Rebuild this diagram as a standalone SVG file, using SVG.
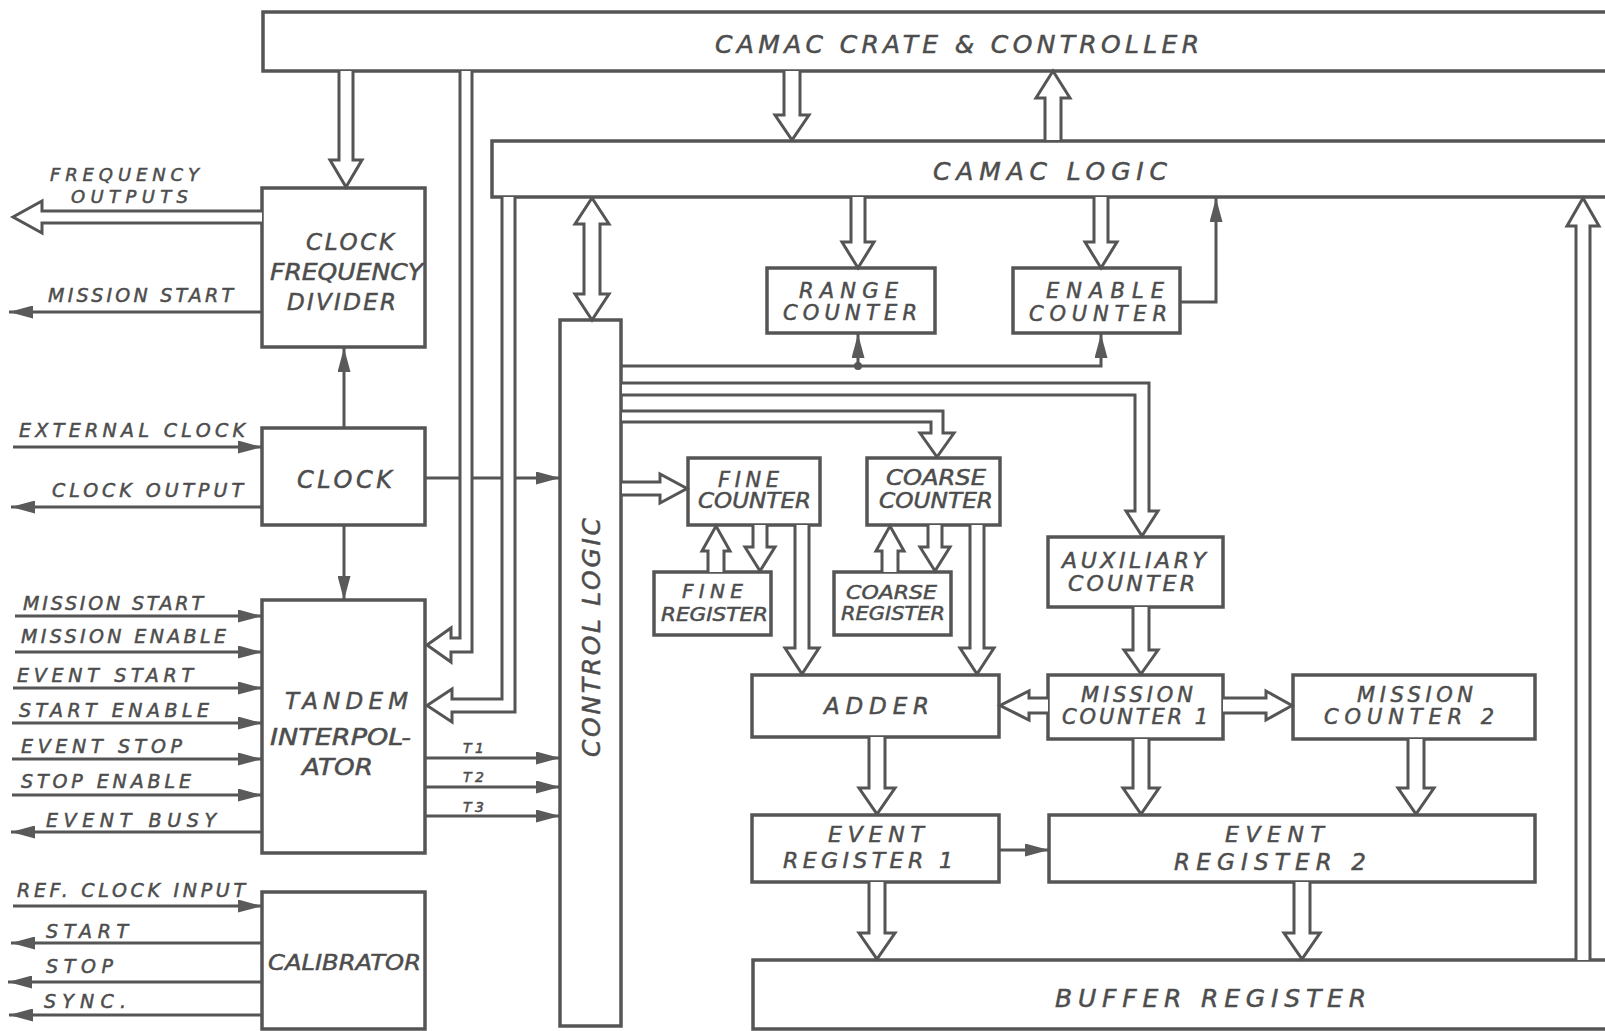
<svg xmlns="http://www.w3.org/2000/svg" width="1605" height="1031" viewBox="0 0 1605 1031">
<style>
.b{fill:none;stroke:#555;stroke-width:3.5}
.h{fill:#fff;stroke:#555;stroke-width:3;stroke-linejoin:miter}
.l{fill:none;stroke:#555;stroke-width:3}
.a{fill:none;stroke:#555;stroke-width:3;marker-end:url(#ah)}
text{font-family:"DejaVu Sans","Liberation Sans",Arial,sans-serif;font-style:oblique;fill:#4d4d4d;stroke:#4d4d4d;stroke-width:0.5}
.s18{font-size:18px}.s19{font-size:19px}.s20{font-size:20px}.s21{font-size:21px}.s22{font-size:22px}.s23{font-size:23px}.s24{font-size:24px}.s25{font-size:25px}.s14{font-size:14px}
</style>
<defs>
<marker id="ah" viewBox="0 0 24 13" refX="24" refY="6.5" markerWidth="24" markerHeight="13" markerUnits="userSpaceOnUse" orient="auto">
<path d="M0,0 L24,6.5 L0,13 Z" fill="#5a5a5a"/>
</marker>
</defs>

<g id="camac-crate"><rect class="b" x="263" y="12" width="1360" height="59"/><text class="s25" x="715" y="53" textLength="484" lengthAdjust="spacing">CAMAC CRATE &amp; CONTROLLER</text></g>
<g id="camac-logic"><rect class="b" x="492" y="141" width="1130" height="56"/><text class="s25" x="933" y="180" textLength="234" lengthAdjust="spacing">CAMAC LOGIC</text></g>
<g id="clock-frequency-divider"><rect class="b" x="262" y="188" width="163" height="159"/>
<text class="s23" x="306" y="250" textLength="88" lengthAdjust="spacing">CLOCK</text>
<text class="s23" x="270" y="280" textLength="153" lengthAdjust="spacingAndGlyphs">FREQUENCY</text>
<text class="s23" x="287" y="310" textLength="109" lengthAdjust="spacing">DIVIDER</text></g>
<g id="clock"><rect class="b" x="262" y="428" width="163" height="97"/><text class="s24" x="297" y="488" textLength="95" lengthAdjust="spacing">CLOCK</text></g>
<g id="tandem-interpolator"><rect class="b" x="262" y="600" width="163" height="253"/>
<text class="s23" x="285" y="709" textLength="123" lengthAdjust="spacing">TANDEM</text>
<text class="s23" x="270" y="745" textLength="141" lengthAdjust="spacingAndGlyphs">INTERPOL-</text>
<text class="s23" x="302" y="775" textLength="71" lengthAdjust="spacingAndGlyphs">ATOR</text></g>
<g id="calibrator"><rect class="b" x="262" y="892" width="163" height="137"/><text class="s22" x="268" y="970" textLength="153" lengthAdjust="spacingAndGlyphs">CALIBRATOR</text></g>
<g id="control-logic"><rect class="b" x="560" y="320" width="61" height="706"/><text class="s25" transform="translate(600,757) rotate(-90)" x="0" y="0" textLength="239" lengthAdjust="spacing">CONTROL LOGIC</text></g>
<g id="range-counter"><rect class="b" x="767" y="268" width="168" height="65"/>
<text class="s21" x="799" y="298" textLength="99" lengthAdjust="spacing">RANGE</text>
<text class="s21" x="783" y="320" textLength="134" lengthAdjust="spacing">COUNTER</text></g>
<g id="enable-counter"><rect class="b" x="1013" y="268" width="167" height="65"/>
<text class="s21" x="1046" y="298" textLength="118" lengthAdjust="spacing">ENABLE</text>
<text class="s21" x="1029" y="321" textLength="138" lengthAdjust="spacing">COUNTER</text></g>
<g id="fine-counter"><rect class="b" x="688" y="458" width="132" height="67"/>
<text class="s21" x="718" y="487" textLength="61" lengthAdjust="spacing">FINE</text>
<text class="s21" x="698" y="508" textLength="113" lengthAdjust="spacingAndGlyphs">COUNTER</text></g>
<g id="fine-register"><rect class="b" x="654" y="572" width="117" height="63"/>
<text class="s20" x="682" y="598" textLength="61" lengthAdjust="spacing">FINE</text>
<text class="s20" x="661" y="621" textLength="107" lengthAdjust="spacingAndGlyphs">REGISTER</text></g>
<g id="coarse-counter"><rect class="b" x="867" y="458" width="133" height="67"/>
<text class="s21" x="886" y="485" textLength="100" lengthAdjust="spacingAndGlyphs">COARSE</text>
<text class="s21" x="879" y="508" textLength="114" lengthAdjust="spacingAndGlyphs">COUNTER</text></g>
<g id="coarse-register"><rect class="b" x="834" y="572" width="117" height="63"/>
<text class="s20" x="846" y="599" textLength="91" lengthAdjust="spacingAndGlyphs">COARSE</text>
<text class="s20" x="841" y="620" textLength="104" lengthAdjust="spacingAndGlyphs">REGISTER</text></g>
<g id="auxiliary-counter"><rect class="b" x="1048" y="537" width="175" height="70"/>
<text class="s22" x="1062" y="568" textLength="144" lengthAdjust="spacing">AUXILIARY</text>
<text class="s22" x="1068" y="591" textLength="127" lengthAdjust="spacing">COUNTER</text></g>
<g id="mission-counter-1"><rect class="b" x="1048" y="675" width="175" height="64"/>
<text class="s21" x="1081" y="702" textLength="112" lengthAdjust="spacing">MISSION</text>
<text class="s21" x="1062" y="724" textLength="146" lengthAdjust="spacing">COUNTER 1</text></g>
<g id="mission-counter-2"><rect class="b" x="1293" y="675" width="242" height="64"/>
<text class="s21" x="1357" y="702" textLength="116" lengthAdjust="spacing">MISSION</text>
<text class="s21" x="1324" y="724" textLength="170" lengthAdjust="spacing">COUNTER 2</text></g>
<g id="adder"><rect class="b" x="752" y="675" width="247" height="62"/><text class="s23" x="824" y="714" textLength="105" lengthAdjust="spacing">ADDER</text></g>
<g id="event-register-1"><rect class="b" x="752" y="815" width="247" height="67"/>
<text class="s22" x="828" y="842" textLength="96" lengthAdjust="spacing">EVENT</text>
<text class="s22" x="783" y="868" textLength="170" lengthAdjust="spacing">REGISTER 1</text></g>
<g id="event-register-2"><rect class="b" x="1049" y="815" width="486" height="67"/>
<text class="s22" x="1225" y="842" textLength="99" lengthAdjust="spacing">EVENT</text>
<text class="s23" x="1174" y="870" textLength="192" lengthAdjust="spacing">REGISTER 2</text></g>
<g id="buffer-register"><rect class="b" x="753" y="960" width="870" height="69"/><text class="s25" x="1055" y="1007" textLength="311" lengthAdjust="spacing">BUFFER REGISTER</text></g>

<g id="labels">
<text class="s18" x="50" y="181" textLength="149" lengthAdjust="spacing">FREQUENCY</text>
<text class="s18" x="71" y="203" textLength="117" lengthAdjust="spacing">OUTPUTS</text>
<text class="s19" x="48" y="302" textLength="185" lengthAdjust="spacing">MISSION START</text>
<text class="s19" x="19" y="437" textLength="226" lengthAdjust="spacing">EXTERNAL CLOCK</text>
<text class="s19" x="52" y="497" textLength="191" lengthAdjust="spacing">CLOCK OUTPUT</text>
<text class="s19" x="23" y="610" textLength="180" lengthAdjust="spacing">MISSION START</text>
<text class="s19" x="21" y="643" textLength="205" lengthAdjust="spacing">MISSION ENABLE</text>
<text class="s19" x="17" y="682" textLength="176" lengthAdjust="spacing">EVENT START</text>
<text class="s19" x="19" y="717" textLength="190" lengthAdjust="spacing">START ENABLE</text>
<text class="s19" x="21" y="753" textLength="161" lengthAdjust="spacing">EVENT STOP</text>
<text class="s19" x="21" y="788" textLength="170" lengthAdjust="spacing">STOP ENABLE</text>
<text class="s19" x="46" y="827" textLength="170" lengthAdjust="spacing">EVENT BUSY</text>
<text class="s19" x="17" y="897" textLength="228" lengthAdjust="spacing">REF. CLOCK INPUT</text>
<text class="s19" x="46" y="938" textLength="82" lengthAdjust="spacing">START</text>
<text class="s19" x="46" y="973" textLength="67" lengthAdjust="spacing">STOP</text>
<text class="s19" x="44" y="1008" textLength="82" lengthAdjust="spacing">SYNC.</text>
<text class="s14" x="463" y="753" textLength="21" lengthAdjust="spacing">T1</text>
<text class="s14" x="463" y="782" textLength="21" lengthAdjust="spacing">T2</text>
<text class="s14" x="463" y="812" textLength="21" lengthAdjust="spacing">T3</text>
</g>

<g id="connectors">
<polyline class="h" points="339,71 339,160 330,160 346,187 362,160 353,160 353,71"/>
<polyline class="h" points="784,71 784,115 775,115 792,140 809,115 800,115 800,71"/>
<polyline class="h" points="1045,140 1045,98 1036,98 1053,71 1070,98 1061,98 1061,140"/>
<polygon class="h" points="592,198 609,224 600,224 600,294 609,294 592,320 575,294 584,294 584,224 575,224"/>
<polyline class="h" points="851,197 851,242 842,242 858,268 874,242 865,242 865,197"/>
<polyline class="h" points="1094,197 1094,242 1085,242 1101,268 1117,242 1108,242 1108,197"/>
<polyline class="h" points="1576,960 1576,226 1567,226 1583,198 1599,226 1590,226 1590,960"/>
<polyline class="h" points="262,211 42,211 42,201 13,217 42,233 42,223 262,223"/>
<polyline class="h" points="460,71 460,638 451,638 451,628 427,645 451,662 451,652 472,652 472,71"/>
<polyline class="h" points="502,197 502,699 452,699 452,689 427,705.5 452,722 452,712 515,712 515,197"/>
<polyline class="h" points="622,383 1149,383 1149,511 1158,511 1142,536 1126,511 1135,511 1135,395 622,395"/>
<polyline class="h" points="622,411 943,411 943,433 954,433 937,457 920,433 931,433 931,422 622,422"/>
<polyline class="h" points="622,482 660,482 660,474 687,488.5 660,503 660,495 622,495"/>
<polyline class="h" points="753,525 753,547 745,547 760,571 775,547 767,547 767,525"/>
<polyline class="h" points="708,572 708,551 702,551 716,526 730,551 724,551 724,572"/>
<polyline class="h" points="928,525 928,547 920,547 935,571 950,547 942,547 942,525"/>
<polyline class="h" points="882,572 882,551 876,551 890,526 904,551 898,551 898,572"/>
<polyline class="h" points="795,525 795,648 785,648 802,674 819,648 809,648 809,525"/>
<polyline class="h" points="970,525 970,648 960,648 977,674 994,648 984,648 984,525"/>
<polyline class="h" points="1133,607 1133,650 1124,650 1141,674 1158,650 1149,650 1149,607"/>
<polyline class="h" points="1048,698 1029,698 1029,691 1000,705.5 1029,720 1029,713 1048,713"/>
<polyline class="h" points="1223,698 1266,698 1266,691 1292,705.5 1266,720 1266,713 1223,713"/>
<polyline class="h" points="869,737 869,788 859,788 877,814 895,788 885,788 885,737"/>
<polyline class="h" points="1133,739 1133,788 1123,788 1141,814 1159,788 1149,788 1149,739"/>
<polyline class="h" points="1408,739 1408,788 1398,788 1416,814 1434,788 1424,788 1424,739"/>
<polyline class="h" points="869,882 869,933 859,933 877,959 895,933 885,933 885,882"/>
<polyline class="h" points="1294,882 1294,933 1284,933 1302,959 1320,933 1310,933 1310,882"/>

<path class="a" d="M13,447 H262"/>
<path class="a" d="M262,507 H11"/>
<path class="a" d="M262,312 H9"/>
<path class="a" d="M15,616 H262"/>
<path class="a" d="M15,652 H262"/>
<path class="a" d="M13,688 H262"/>
<path class="a" d="M12,723 H262"/>
<path class="a" d="M12,759 H262"/>
<path class="a" d="M12,795 H262"/>
<path class="a" d="M262,832 H11"/>
<path class="a" d="M13,906 H262"/>
<path class="a" d="M262,943 H11"/>
<path class="a" d="M262,982 H8"/>
<path class="a" d="M262,1015 H9"/>
<path class="a" d="M344,428 V348"/>
<path class="a" d="M344,525 V600"/>
<path class="l" d="M425,478 H460 M472,478 H502"/>
<path class="a" d="M515,478 H560"/>
<path class="a" d="M425,758 H560"/>
<path class="a" d="M425,787 H560"/>
<path class="a" d="M425,816 H560"/>
<path class="a" d="M621,366 H1101 V334"/>
<path class="a" d="M858,366 V334"/>
<circle cx="858" cy="366" r="4" fill="#555"/>
<path class="a" d="M1180,302 H1216 V198"/>
<path class="a" d="M999,850 H1049"/>
</g>
</svg>
